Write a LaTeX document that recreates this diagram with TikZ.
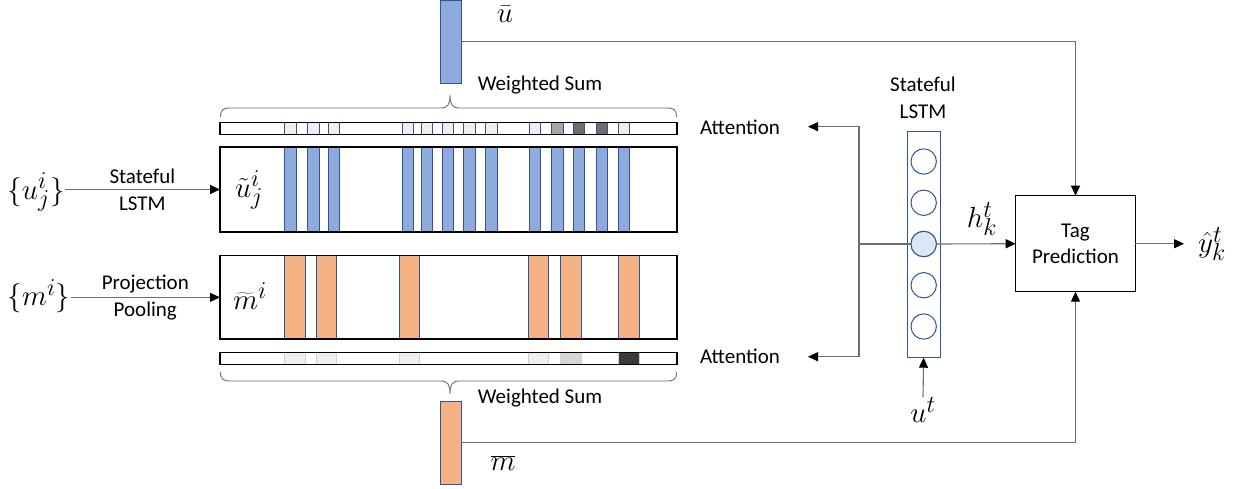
\documentclass[tikz,border=0pt]{standalone}
\usepackage{fontspec}
\setmainfont{Carlito}
\usetikzlibrary{arrows.meta}
\definecolor{bfill}{HTML}{8FAADC}
\definecolor{bedge}{HTML}{2F5597}
\definecolor{ofill}{HTML}{F4B183}
\definecolor{cl}{HTML}{EFEFEF}
\definecolor{cm}{HTML}{A6A6A6}
\definecolor{cd}{HTML}{6E6E6E}
\definecolor{cg}{HTML}{D6D6D6}
\definecolor{ck}{HTML}{3A3A3A}
\definecolor{lc}{HTML}{6D6D6D}
\newcommand\mbig[1]{\scalebox{1.17}{$#1$}}
\begin{document}
\begin{tikzpicture}[x=1pt,y=-1pt,
  box/.style={draw=black, line width=1.4pt, inner sep=0pt, outer sep=0pt, anchor=north west},
  bar/.style={draw=bedge, line width=1pt, inner sep=0pt, outer sep=0pt, anchor=north west},
  ln/.style={draw=lc, line width=1.1pt},
  arr/.style={ln, -{Triangle[length=10pt,width=9pt,color=black]}},
  lbl/.style={font=\fontsize{21}{26.7}\selectfont, inner sep=0pt, align=center},
  mth/.style={font=\fontsize{24.88}{30}\selectfont, inner sep=0pt},
  neuron/.style={circle, draw=bedge, line width=1pt, minimum size=25.4pt, inner sep=0pt, fill=white},
  brc/.style={draw=lc, line width=0.9pt}
]
\useasboundingbox (0,0) rectangle (1240,488);

% ---- u bars ----
\foreach \x/\c [count=\i] in {284.7/cl,307.7/cl,328.3/cl,402.3/cl,421/cl,442.3/cl,463.7/cl,485.7/cl,529.3/cl,551.7/cm,573.3/cd,596/cd,618.3/cl}{
  \node[bar, fill=bfill, minimum width=11.5pt, minimum height=85pt] (ub\i) at (\x,147) {};
  \node[bar, fill=\c, minimum width=11.5pt, minimum height=11.6pt] (ua\i) at (\x,122.7) {};
}
\node[box, minimum width=457pt, minimum height=85pt] (ubox) at (220,147) {};
\node[box, line width=1.2pt, minimum width=457pt, minimum height=11.6pt] (ustrip) at (220,122.7) {};

% ---- m bars ----
\foreach \x/\w/\c [count=\i] in {284.7/20.3/cl,316/20.7/cl,399.7/19.6/cl,528.7/19.6/cl,560.3/20.7/cg,618.7/20.6/ck}{
  \node[bar, fill=ofill, minimum width=\w pt, minimum height=83.3pt] (mb\i) at (\x,255.7) {};
  \node[bar, draw=bedge!25, line width=0.6pt, fill=\c, minimum width=\w pt, minimum height=12pt] (ma\i) at (\x,352.3) {};
}
\node[box, minimum width=457pt, minimum height=83.3pt] (mbox) at (220,255.7) {};
\node[box, line width=1.2pt, minimum width=457pt, minimum height=12pt] (mstrip) at (220,352.3) {};

% ---- braces ----
\draw[brc] (220.5,117) .. controls (220.5,110) and (223,108) .. (230,108) -- (441,108)
  .. controls (448,108) and (450,104) .. (450,95) .. controls (450,104) and (452,108) .. (459,108)
  -- (667,108) .. controls (674,108) and (676.5,110) .. (676.5,117);
\draw[brc] (220.5,372) .. controls (220.5,379) and (223,381) .. (230,381) -- (441,381)
  .. controls (448,381) and (450,385) .. (450,394) .. controls (450,385) and (452,381) .. (459,381)
  -- (667,381) .. controls (674,381) and (676.5,379) .. (676.5,372);

% ---- summary vectors ----
\node[bar, fill=bfill, minimum width=21pt, minimum height=83pt] (ubar) at (440,0) {};
\node[bar, fill=ofill, minimum width=20.6pt, minimum height=83pt] (mbar) at (440.7,401) {};
\node[mth] (ubl) at (505,14) {\mbig{\bar{u}}};
\node[mth] (mbl) at (503,463) {\mbig{\overline{m}}};
\node[lbl] (ws1) at (540,85) {Weighted Sum};
\node[lbl] (ws2) at (540,398) {Weighted Sum};

% ---- inputs ----
\node[mth] (uin) at (36,192) {\mbig{\{u_j^i\}}};
\node[mth] (min) at (39,296) {\mbig{\{m^i\}}};
\node[mth] (ut) at (249,190) {\mbig{\tilde{u}_j^i}};
\node[mth] (mt) at (250,296) {\mbig{\widetilde{m}^i}};
\draw[arr] (uin.east |- ubox.west) -- (ubox.west) node[midway, lbl] {Stateful\\LSTM};
\draw[arr] (min.east |- mbox.west) -- (mbox.west) node[midway, lbl] {Projection\\Pooling};

% ---- LSTM column ----
\node[bar, minimum width=33.3pt, minimum height=226pt] (lstm) at (907,131.7) {};
\foreach \k in {1,...,5}{
  \node[neuron] (c\k) at (923.7,{244+(\k-3)*41.25}) {};
}
\node[neuron, fill=bfill!30] (c3) at (923.7,244) {};
\node[lbl] (lstml) at (923,98) {Stateful\\LSTM};
\node[mth] (utl) at (923,410) {\mbig{u^t}};
\draw[arr] (utl.north) -- (lstm.south);

% ---- attention ----
\coordinate (jn) at (859,244);
\coordinate (at1) at (808,126.7);
\coordinate (at2) at (808,356.7);
\node[lbl] (att1) at (740,127) {Attention};
\node[lbl] (att2) at (740,356) {Attention};
\draw[ln] (c3.west) -- (jn);
\draw[arr] (jn) |- (at1);
\draw[arr] (jn) |- (at2);

% ---- tag prediction ----
\node[box, minimum width=119.6pt, minimum height=96pt] (tag) at (1015.7,195.7) {};
\node[lbl] (tagl) at (tag.center) {Tag\\Prediction};
\draw[arr] (c3.east) -- (tag.west);
\node[mth] (hl) at (982,219) {\mbig{h_k^t}};
\coordinate (yo) at (1184,243.7);
\draw[arr] (tag.east) -- (yo);
\node[mth] (yl) at (1212,244) {\mbig{\hat{y}_k^t}};
\draw[arr] (ubar.east) -| (tag.north);
\draw[arr] (mbar.east) -| (tag.south);
\end{tikzpicture}
\end{document}
